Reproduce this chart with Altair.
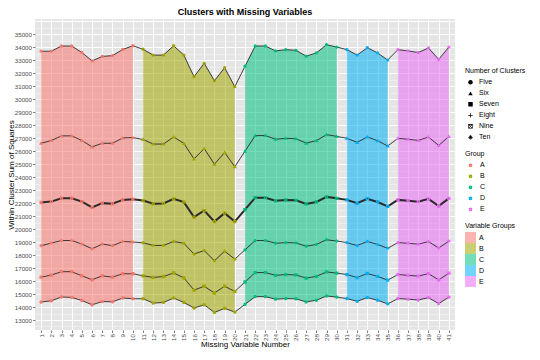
import altair as alt
import pandas as pd

x_vals = list(range(1, 42))
groups = ["A"] * 10 + ["B"] * 10 + ["C"] * 10 + ["D"] * 5 + ["E"] * 6
group_names = ["A", "B", "C", "D", "E"]
group_colors = ["#F8766D", "#A3A500", "#00BF7D", "#00B0F6", "#E76BF3"]
cluster_names = ["Five", "Six", "Seven", "Eight", "Nine", "Ten"]

five = [33700, 33700, 34100, 34100, 33600, 32950, 33300, 33360, 33830, 34120,
        33850, 33400, 33400, 34120, 33400, 31740, 32770, 31430, 32430, 30970,
        32540, 34100, 34100, 33720, 33820, 33770, 33320, 33570, 34200, 34020,
        33820, 33400, 33970, 33570, 33020,
        33820, 33720, 33600, 33950, 33070, 34020]
six = [26610, 26820, 27180, 27180, 26820, 26330, 26610, 26610, 27020, 27050,
       26900, 26550, 26550, 27100, 26600, 25400, 26200, 25000, 25900, 24800,
       26000, 27200, 27200, 26920, 26990, 26960, 26620, 26810, 27275, 27140,
       26990, 26680, 27100, 26810, 26400,
       26990, 26920, 26830, 27090, 26440, 27140]
seven = [22050, 22120, 22380, 22380, 22120, 21670, 22000, 21950, 22250, 22300,
         22200, 21950, 21980, 22330, 22080, 20920, 21430, 20580, 21230, 20580,
         21500, 22420, 22420, 22180, 22250, 22220, 21940, 22090, 22480, 22370,
         22250, 21990, 22340, 22090, 21750,
         22250, 22180, 22110, 22330, 21780, 22370]
eight = [18720, 18920, 19120, 19120, 18850, 18480, 18850, 18720, 19050, 19000,
         18950, 18740, 18740, 19050, 18900, 18080, 18350, 17560, 18300, 17690,
         18400, 19120, 19120, 18910, 18960, 18940, 18680, 18820, 19180, 19080,
         18960, 18730, 19050, 18820, 18520,
         18960, 18910, 18840, 19040, 18540, 19080]
nine = [16300, 16460, 16720, 16720, 16400, 16100, 16400, 16300, 16560, 16560,
        16400, 16280, 16350, 16620, 16250, 15300, 15600, 15080, 15600, 15200,
        15925, 16650, 16650, 16440, 16500, 16470, 16230, 16360, 16700, 16610,
        16500, 16270, 16580, 16360, 16070,
        16500, 16440, 16380, 16570, 16090, 16610]
ten = [14380, 14480, 14770, 14740, 14500, 14170, 14420, 14400, 14690, 14640,
       14640, 14300, 14350, 14690, 14350, 13920, 14170, 13580, 13900, 13610,
       14200, 14800, 14800, 14600, 14650, 14630, 14390, 14520, 14850, 14760,
       14650, 14440, 14730, 14520, 14240,
       14650, 14600, 14540, 14720, 14260, 14760]

y_grid = list(range(12500, 36001, 500))

series = dict(zip(cluster_names, [five, six, seven, eight, nine, ten]))
rows = []
for name, vals in series.items():
    for xv, g, v in zip(x_vals, groups, vals):
        rows.append({"x": xv, "group": g, "cluster": name, "value": v})
long_df = pd.DataFrame(rows)
ribbon_df = pd.DataFrame({"x": x_vals, "vgroup": groups, "value": ten, "hi": five})

FONT = "Liberation Sans"
xscale = alt.Scale(domain=[0.4, 41.6], nice=False, zero=False)
yscale = alt.Scale(domain=[12230, 36180], nice=False, zero=False)

minor_test = "datum.value % 1000 == 500"
x_axis = alt.Axis(values=x_vals, labelAngle=270, grid=True, gridColor="white",
                  gridWidth=1, domain=False, tickColor="#7f7f7f", tickSize=2.5,
                  labelFontSize=6.2, labelColor="#4d4d4d", labelPadding=1,
                  title="Missing Variable Number", titleFontSize=8,
                  titleFontWeight="normal", titlePadding=0)
y_axis = alt.Axis(values=y_grid, grid=True,
                  gridColor={"condition": {"test": minor_test, "value": "#F3F3F3"}, "value": "white"},
                  gridWidth={"condition": {"test": minor_test, "value": 0.6}, "value": 1},
                  tickOpacity={"condition": {"test": minor_test + " || datum.value > 35000", "value": 0}, "value": 1},
                  labelExpr="datum.value % 1000 == 0 && datum.value <= 35000 && datum.value >= 13000 ? datum.value : ''",
                  domain=False, tickColor="#7f7f7f", tickSize=2.5,
                  labelFontSize=6.2, labelColor="#4d4d4d", labelPadding=1,
                  title="Within Cluster Sum of Squares", titleFontSize=8,
                  titleFontWeight="normal", titleX=-19.5)

X = alt.X("x:Q", scale=xscale, axis=x_axis)
Y = alt.Y("value:Q", scale=yscale, axis=y_axis)

area = alt.Chart(ribbon_df).mark_area(fillOpacity=0.55, strokeWidth=0).encode(
    x=X, y=Y, y2="hi:Q",
    fill=alt.Fill("vgroup:N", scale=alt.Scale(domain=group_names, range=group_colors),
                  legend=alt.Legend(title="Variable Groups", orient="none",
                                    legendX=430, legendY=203, symbolType="square",
                                    symbolSize=121, symbolOpacity=0.55,
                                    symbolStrokeWidth=0, rowPadding=0,
                                    titleFontSize=7, labelFontSize=7,
                                    titleFontWeight="normal", titlePadding=3,
                                    padding=0, labelOffset=3)),
)

lines = alt.Chart(long_df).mark_line(color="#2a2a2a").encode(
    x=X, y=Y,
    detail="cluster:N",
    strokeWidth=alt.condition("datum.cluster == 'Seven'", alt.value(2.0), alt.value(0.9)),
)

PLUS = "M-1,-0.15H1V0.15H-1Z M-0.15,-1H0.15V1H-0.15Z"
DIAG1 = "M-0.594,-0.806L0.806,0.594L0.594,0.806L-0.806,-0.594Z"
DIAG2 = "M-0.594,0.806L-0.806,0.594L0.594,-0.806L0.806,-0.594Z"
RING = "M-1,-1H1V1H-1Z M-0.72,-0.72V0.72H0.72V-0.72Z"
shape_paths = [
    "circle",
    "triangle-up",
    "square",
    PLUS,
    RING + " " + DIAG1 + " " + DIAG2,
    PLUS + " " + DIAG1 + " " + DIAG2,
]
shape_scale = alt.Scale(domain=cluster_names, range=shape_paths)

points = alt.Chart(long_df).mark_point(filled=False, size=4, strokeWidth=1.3, opacity=1).encode(
    x=X, y=Y,
    stroke=alt.Stroke("group:N", scale=alt.Scale(domain=group_names, range=group_colors),
                      legend=alt.Legend(title="Group", orient="none", legendX=430,
                                        legendY=131, symbolType="circle", symbolSize=5,
                                        symbolStrokeWidth=1.5,
                                        titleFontSize=7, labelFontSize=7,
                                        titleFontWeight="normal", titlePadding=3,
                                        padding=0, clipHeight=10.7, rowPadding=0,
                                        labelOffset=6, symbolOffset=2)),
    shape=alt.Shape("cluster:N", scale=shape_scale, legend=None),
)

# carrier layer for the "Number of Clusters" key (zero-size marks)
shape_key = alt.Chart(long_df).mark_point(filled=True, size=0, color="black").encode(
    x=X, y=Y,
    shape=alt.Shape("cluster:N", scale=shape_scale,
                    legend=alt.Legend(title="Number of Clusters", orient="none",
                                      legendX=430, legendY=48, symbolSize=20,
                                      symbolFillColor="black", symbolOpacity=1,
                                      titleFontSize=7, labelFontSize=7,
                                      titleFontWeight="normal", titlePadding=3,
                                      padding=0, clipHeight=10.7, rowPadding=0,
                                      labelOffset=5, symbolOffset=2)),
)

chart = alt.layer(area, lines, points, shape_key).resolve_scale(
    fill="independent", stroke="independent", shape="independent"
).resolve_legend(
    fill="independent", stroke="independent", shape="independent"
).properties(
    width=420, height=311,
    title=alt.TitleParams("Clusters with Missing Variables", fontSize=9,
                          fontWeight="bold", offset=2, anchor="middle", font=FONT,
                          color="black", frame="group"),
    autosize=alt.AutoSizeParams(type="none"),
    padding={"left": 27, "top": 11, "right": 77, "bottom": 22},
).configure(font=FONT).configure_view(fill="#E5E5E5", stroke=None).configure_legend(
    labelFont=FONT, titleFont=FONT, labelColor="black", titleColor="black"
).configure_axis(labelFont=FONT, titleFont=FONT, titleColor="black")

chart.save("out.html", embed_options={"renderer": "svg", "actions": False})
